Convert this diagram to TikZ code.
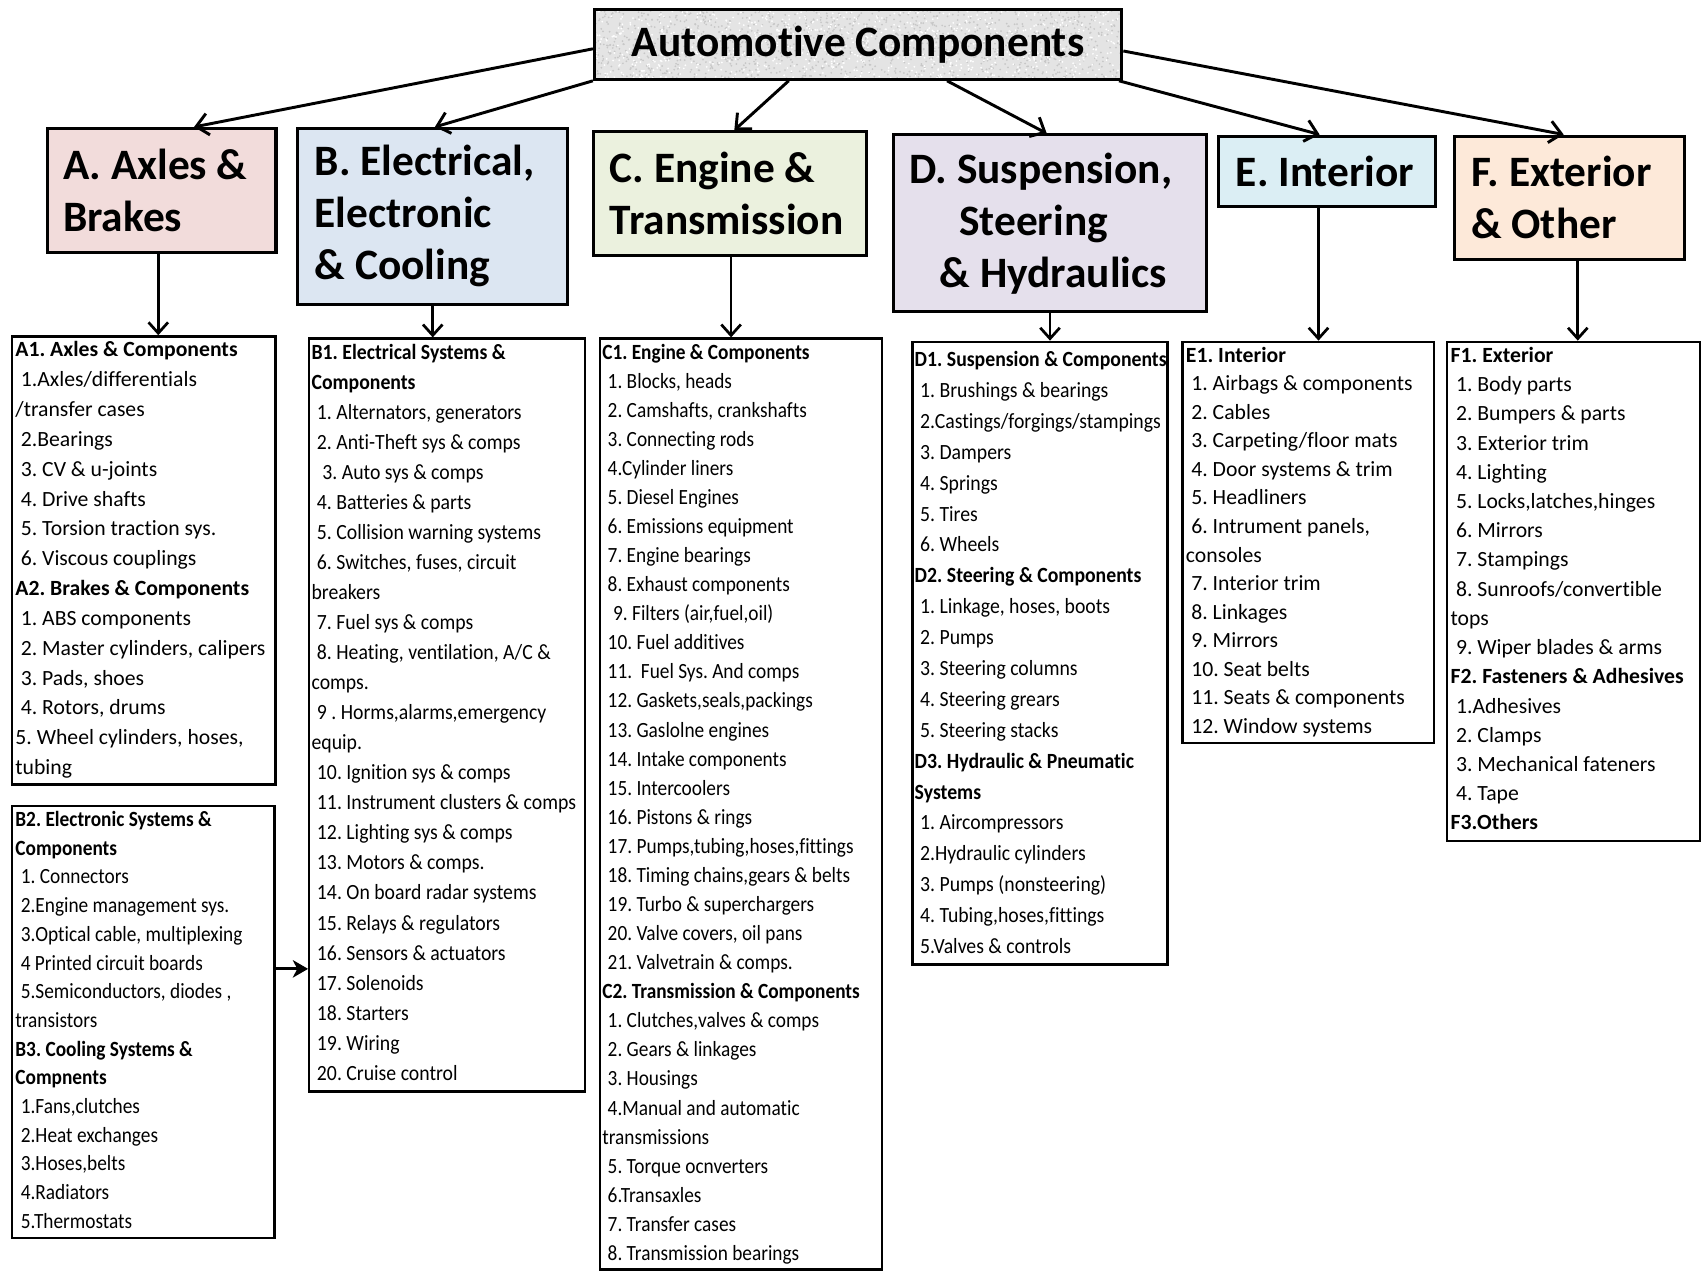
\documentclass[tikz,border=0pt]{standalone}
\usepackage{fontspec}
\setmainfont[Ligatures=NoCommon]{Carlito}
\newfontfamily\condfont[FakeStretch=0.89, Ligatures=NoCommon]{Carlito}
\newfontfamily\semicondfont[FakeStretch=0.91, Ligatures=NoCommon]{Carlito}
\usetikzlibrary{arrows.meta,calc}

\definecolor{fillA}{HTML}{F2DCDB}
\definecolor{fillB}{HTML}{DCE6F2}
\definecolor{fillC}{HTML}{EBF1DE}
\definecolor{fillD}{HTML}{E5E0EC}
\definecolor{fillE}{HTML}{DBEEF4}
\definecolor{fillF}{HTML}{FDE9D9}
\definecolor{granite}{HTML}{E4E4E4}

% small indent used in the item lists
\newcommand\ii{\hspace*{5pt}}

% one text node per line: #1 style, #2 name prefix, #3 x, #4 first baseline, #5 line step, #6 lines
\newcommand\boxlines[6]{%
  \foreach \txt [count=\n from 0] in {#6}{%
    \node[#1, anchor=base west] (#2-\n) at (#3, #4+\n*#5) {\txt};
  }%
}

\begin{document}
\frenchspacing
\begin{tikzpicture}[x=1pt, y=-1pt,
  cat/.style={draw, line width=2.8pt, anchor=north west, inner sep=0pt},
  catlabel/.style={anchor=west, inner sep=0pt, align=left,
    font=\fontsize{40}{48}\selectfont\bfseries},
  listbox/.style={draw, line width=2.2pt, anchor=north west, inner sep=0pt},
  listtext/.style={inner sep=0pt, font=\fontsize{20}{24}\selectfont},
  condtext/.style={inner sep=0pt, font=\condfont\fontsize{20}{24}\selectfont},
  semitext/.style={inner sep=0pt, font=\semicondfont\fontsize{20}{24}\selectfont},
  rootarrow/.style={line width=2.7pt, -{Straight Barb[length=11pt, width=20pt]}},
  downarrow/.style={line width=2.5pt, -{Straight Barb[length=10pt, width=18pt]}},
  sidearrow/.style={line width=2.6pt, -{Stealth[length=14pt, width=16pt, inset=4pt]}}
]
\useasboundingbox (0,0) rectangle (1568,1171);

% top node with a speckled grey fill
\pgfmathsetseed{11}
\node[draw, line width=3pt, fill=granite, minimum width=486pt, minimum height=64pt,
  inner sep=0pt, font=\fontsize{40}{48}\selectfont\bfseries,
  path picture={
    \foreach \k in {1,...,1400}{
      \fill[black!22] ($(path picture bounding box.north west)+(rnd*490, rnd*68)$) circle (0.9);
    }
    \foreach \k in {1,...,900}{
      \fill[white] ($(path picture bounding box.north west)+(rnd*490, rnd*68)$) circle (0.9);
    }
  }] (root) at (791,41) {Automotive Components};

% category boxes
\node[cat, fill=fillA, minimum width=211pt, minimum height=114pt] (A) at (42,117) {};
\node[cat, fill=fillB, minimum width=249pt, minimum height=162pt] (B) at (273,117) {};
\node[cat, fill=fillC, minimum width=251pt, minimum height=114pt] (C) at (546,120) {};
\node[cat, fill=fillD, minimum width=289pt, minimum height=163pt] (D) at (822,123) {};
\node[cat, fill=fillE, minimum width=200pt, minimum height=65pt] (E) at (1122,124) {};
\node[cat, fill=fillF, minimum width=212pt, minimum height=114pt] (F) at (1339,124) {};

\node[catlabel] (Alab) at ([xshift=16pt]A.west) {A. Axles \&\\Brakes};
\node[catlabel] (Blab) at ([xshift=17pt]B.west) {B. Electrical,\\Electronic\\\& Cooling};
\node[catlabel] (Clab) at ([xshift=16pt]C.west) {C. Engine \&\\Transmission};
\node[catlabel] (Dlab) at ([xshift=16pt]D.west) {D. Suspension,\\\hspace*{46pt}Steering\\\hspace*{28pt}\& Hydraulics};
\node[catlabel] (Elab) at ([xshift=17pt]E.west) {E. Interior};
\node[catlabel] (Flab) at ([xshift=17pt]F.west) {F. Exterior\\\& Other};

% list boxes
\node[listbox, minimum width=243pt, minimum height=413pt] (Abox) at (10,309) {};
\node[listbox, minimum width=242pt, minimum height=398pt] (B2box) at (10,742) {};
\node[listbox, minimum width=254pt, minimum height=694pt] (B1box) at (284,311) {};
\node[listbox, minimum width=260pt, minimum height=858pt] (Cbox) at (552,311) {};
\node[listbox, minimum width=235pt, minimum height=574pt] (Dbox) at (840,314) {};
\node[listbox, minimum width=232pt, minimum height=370pt] (Ebox) at (1089,314) {};
\node[listbox, minimum width=233pt, minimum height=460pt] (Fbox) at (1333,314) {};

% connectors from the top node
\draw[rootarrow] ([yshift=-4pt]root.west) -- ([xshift=30pt]A.north);
\draw[rootarrow] (root.south west) -- ([xshift=2pt]B.north);
\draw[rootarrow] ([xshift=-64pt]root.south) -- ([xshift=4pt]C.north);
\draw[rootarrow] ([xshift=82pt]root.south) -- ([xshift=-3pt]D.north);
\draw[rootarrow] ([xshift=-4pt]root.south east) -- ([xshift=-7pt]E.north);
\draw[rootarrow] ([yshift=-6pt]root.east) -- ([xshift=-5pt]F.north);

% connectors down to the lists
\draw[downarrow] ([xshift=-3pt]A.south) -- ([xshift=-3pt]A.south |- Abox.north);
\draw[downarrow] (B.south) -- (B.south |- B1box.north);
\draw[downarrow] ([xshift=1pt]C.south) -- ([xshift=1pt]C.south |- Cbox.north);
\draw[downarrow] (D.south) -- (D.south |- Dbox.north);
\draw[downarrow] ([xshift=-8pt]E.south) -- ([xshift=-8pt]E.south |- Ebox.north);
\draw[downarrow] ([xshift=8pt]F.south) -- ([xshift=8pt]F.south |- Fbox.north);
\draw[sidearrow] ([yshift=49pt]B2box.east) -- ([yshift=49pt]B2box.east -| B1box.west);

% list contents
\boxlines{listtext}{a}{14}{329}{27.5}{
  {\textbf{A1. Axles \& Components}},
  {\ii1.Axles/differentials},
  {/transfer cases},
  {\ii2.Bearings},
  {\ii3. CV \& u-joints},
  {\ii4. Drive shafts},
  {\ii5. Torsion traction sys.},
  {\ii6. Viscous couplings},
  {\textbf{A2. Brakes \& Components}},
  {\ii1. ABS components},
  {\ii2. Master cylinders, calipers},
  {\ii3. Pads, shoes},
  {\ii4. Rotors, drums},
  {5. Wheel cylinders, hoses,},
  {tubing}}

\boxlines{semitext}{bone}{287}{331}{27.7}{
  {\textbf{B1. Electrical Systems \&}},
  {\textbf{Components}},
  {\ii1. Alternators, generators},
  {\ii2. Anti-Theft sys \& comps},
  {\ii\ii3. Auto sys \& comps},
  {\ii4. Batteries \& parts},
  {\ii5. Collision warning systems},
  {\ii6. Switches, fuses, circuit},
  {breakers},
  {\ii7. Fuel sys \& comps},
  {\ii8. Heating, ventilation, A/C \&},
  {comps.},
  {\ii9 . Horms,alarms,emergency},
  {equip.},
  {\ii10. Ignition sys \& comps},
  {\ii11. Instrument clusters \& comps},
  {\ii12. Lighting sys \& comps},
  {\ii13. Motors \& comps.},
  {\ii14. On board radar systems},
  {\ii15. Relays \& regulators},
  {\ii16. Sensors \& actuators},
  {\ii17. Solenoids},
  {\ii18. Starters},
  {\ii19. Wiring},
  {\ii20. Cruise control}}

\boxlines{condtext}{btwo}{14}{762}{26.43}{
  {\textbf{B2. Electronic Systems \&}},
  {\textbf{Components}},
  {\ii1. Connectors},
  {\ii2.Engine management sys.},
  {\ii3.Optical cable, multiplexing},
  {\ii4 Printed circuit boards},
  {\ii5.Semiconductors, diodes ,},
  {transistors},
  {\textbf{B3. Cooling Systems \&}},
  {\textbf{Compnents}},
  {\ii1.Fans,clutches},
  {\ii2.Heat exchanges},
  {\ii3.Hoses,belts},
  {\ii4.Radiators},
  {\ii5.Thermostats}}

\boxlines{condtext}{c}{555}{331}{26.8}{
  {\textbf{C1. Engine \& Components}},
  {\ii1. Blocks, heads},
  {\ii2. Camshafts, crankshafts},
  {\ii3. Connecting rods},
  {\ii4.Cylinder liners},
  {\ii5. Diesel Engines},
  {\ii6. Emissions equipment},
  {\ii7. Engine bearings},
  {\ii8. Exhaust components},
  {\ii\ii9. Filters (air,fuel,oil)},
  {\ii10. Fuel additives},
  {\ii11.\ \ Fuel Sys. And comps},
  {\ii12. Gaskets,seals,packings},
  {\ii13. Gaslolne engines},
  {\ii14. Intake components},
  {\ii15. Intercoolers},
  {\ii16. Pistons \& rings},
  {\ii17. Pumps,tubing,hoses,fittings},
  {\ii18. Timing chains,gears \& belts},
  {\ii19. Turbo \& superchargers},
  {\ii20. Valve covers, oil pans},
  {\ii21. Valvetrain \& comps.},
  {\textbf{C2. Transmission \& Components}},
  {\ii1. Clutches,valves \& comps},
  {\ii2. Gears \& linkages},
  {\ii3. Housings},
  {\ii4.Manual and automatic},
  {transmissions},
  {\ii5. Torque ocnverters},
  {\ii6.Transaxles},
  {\ii7. Transfer cases},
  {\ii8. Transmission bearings}}

\boxlines{semitext}{d}{843}{338}{28.47}{
  {\textbf{D1. Suspension \& Components}},
  {\ii1. Brushings \& bearings},
  {\ii2.Castings/forgings/stampings},
  {\ii3. Dampers},
  {\ii4. Springs},
  {\ii5. Tires},
  {\ii6. Wheels},
  {\textbf{D2. Steering \& Components}},
  {\ii1. Linkage, hoses, boots},
  {\ii2. Pumps},
  {\ii3. Steering columns},
  {\ii4. Steering grears},
  {\ii5. Steering stacks},
  {\textbf{D3. Hydraulic \& Pneumatic}},
  {\textbf{Systems}},
  {\ii1. Aircompressors},
  {\ii2.Hydraulic cylinders},
  {\ii3. Pumps (nonsteering)},
  {\ii4. Tubing,hoses,fittings},
  {\ii5.Valves \& controls}}

\boxlines{listtext}{e}{1093}{334}{26.3}{
  {\textbf{E1. Interior}},
  {\ii1. Airbags \& components},
  {\ii2. Cables},
  {\ii3. Carpeting/floor mats},
  {\ii4. Door systems \& trim},
  {\ii5. Headliners},
  {\ii6. Intrument panels,},
  {consoles},
  {\ii7. Interior trim},
  {\ii8. Linkages},
  {\ii9. Mirrors},
  {\ii10. Seat belts},
  {\ii11. Seats \& components},
  {\ii12. Window systems}}

\boxlines{listtext}{f}{1337}{334}{26.94}{
  {\textbf{F1. Exterior}},
  {\ii1. Body parts},
  {\ii2. Bumpers \& parts},
  {\ii3. Exterior trim},
  {\ii4. Lighting},
  {\ii5. Locks,latches,hinges},
  {\ii6. Mirrors},
  {\ii7. Stampings},
  {\ii8. Sunroofs/convertible},
  {tops},
  {\ii9. Wiper blades \& arms},
  {\textbf{F2. Fasteners \& Adhesives}},
  {\ii1.Adhesives},
  {\ii2. Clamps},
  {\ii3. Mechanical fateners},
  {\ii4. Tape},
  {\textbf{F3.Others}}}
\end{tikzpicture}
\end{document}
